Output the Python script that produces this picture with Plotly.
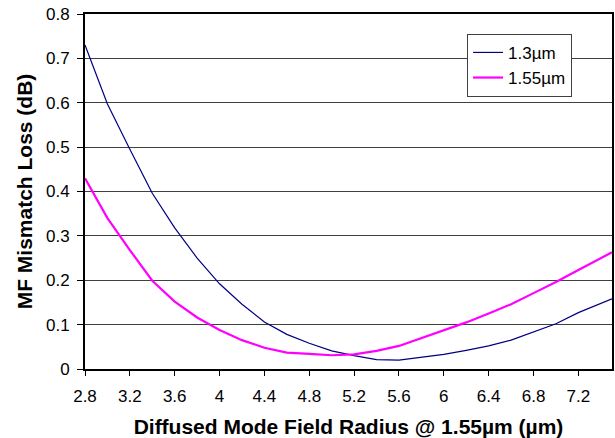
import plotly.graph_objects as go

x_vals = [2.8, 3.0, 3.2, 3.4, 3.6, 3.8, 4.0, 4.2, 4.4, 4.6, 4.8, 5.0,
          5.2, 5.4, 5.6, 5.8, 6.0, 6.2, 6.4, 6.6, 6.8, 7.0, 7.2, 7.4, 7.5]
loss_1300 = [0.73, 0.597, 0.495, 0.396, 0.318, 0.25, 0.192, 0.146, 0.106, 0.078, 0.058, 0.041,
             0.030, 0.021, 0.020, 0.026, 0.033, 0.042, 0.052, 0.065, 0.083, 0.102, 0.127, 0.148, 0.158]
loss_1550 = [0.43, 0.34, 0.268, 0.199, 0.152, 0.116, 0.088, 0.065, 0.048, 0.037, 0.034, 0.031,
             0.033, 0.041, 0.052, 0.070, 0.088, 0.105, 0.125, 0.146, 0.171, 0.196, 0.223, 0.250, 0.263]
x_tickvals = [2.8, 3.2, 3.6, 4.0, 4.4, 4.8, 5.2, 5.6, 6.0, 6.4, 6.8, 7.2]
x_ticktext = ["2.8", "3.2", "3.6", "4", "4.4", "4.8", "5.2", "5.6", "6", "6.4", "6.8", "7.2"]
y_tickvals = [0, 0.1, 0.2, 0.3, 0.4, 0.5, 0.6, 0.7, 0.8]
y_ticktext = ["0", "0.1", "0.2", "0.3", "0.4", "0.5", "0.6", "0.7", "0.8"]

FONT = "Arial, Liberation Sans, sans-serif"

fig = go.Figure()
fig.add_trace(go.Scatter(x=x_vals, y=loss_1300, mode="lines", name="1.3µm",
                         line=dict(color="#000080", width=1.2)))
fig.add_trace(go.Scatter(x=x_vals, y=loss_1550, mode="lines", name="1.55µm",
                         line=dict(color="#FF00FF", width=2.2)))

fig.update_layout(
    width=615, height=438,
    margin=dict(l=85, r=3, t=14, b=69, autoexpand=False),
    paper_bgcolor="white", plot_bgcolor="white",
    font=dict(family=FONT, size=17, color="black"),
    showlegend=True,
    legend=dict(x=0.725, y=0.944, xanchor="left", yanchor="top",
                bgcolor="white", bordercolor="#404040", borderwidth=1,
                font=dict(family=FONT, size=17, color="black"),
                tracegroupgap=0, itemwidth=30),
    xaxis=dict(range=[2.8, 7.5], tickvals=x_tickvals, ticktext=x_ticktext,
               showgrid=False, zeroline=False, automargin=False,
               showline=True, linecolor="black", linewidth=2, mirror=True,
               ticks="outside", ticklen=5, tickcolor="black", tickwidth=1,
               ticklabelstandoff=6,
               tickfont=dict(family=FONT, size=17),
               title=dict(text="<b>Diffused Mode Field Radius @ 1.55µm (µm)</b>",
                          font=dict(family=FONT, size=21), standoff=19)),
    yaxis=dict(range=[0, 0.8], tickvals=y_tickvals, ticktext=y_ticktext,
               showgrid=True, gridcolor="#404040", gridwidth=1, zeroline=False,
               automargin=False,
               showline=True, linecolor="black", linewidth=2, mirror=True,
               ticks="outside", ticklen=6, tickcolor="black", tickwidth=1,
               ticklabelstandoff=4,
               tickfont=dict(family=FONT, size=17),
               title=dict(text="<b>MF Mismatch Loss (dB)</b>",
                          font=dict(family=FONT, size=21), standoff=8)),
)

# remove the browser's default 8px body margin so the figure fills the window
fig.write_html("out.html",
               config={"displayModeBar": False},
               post_script="document.body.style.margin='0';document.body.style.overflow='hidden';")
